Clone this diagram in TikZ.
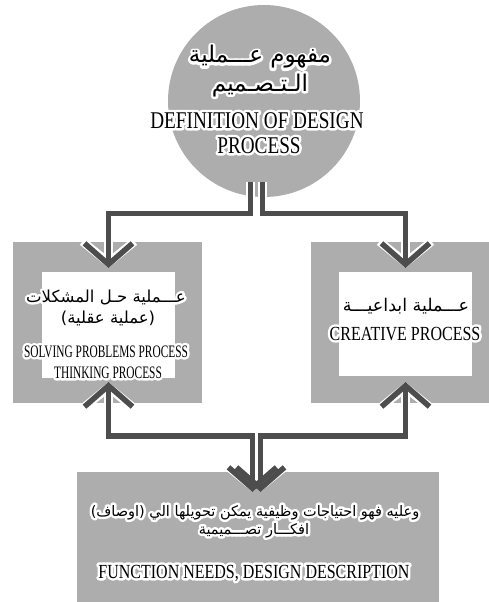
\documentclass[tikz,border=0pt]{standalone}
\usepackage{fontspec}
\setmainfont{Liberation Serif}
\newfontfamily\arabicfont[Script=Arabic]{DejaVu Sans}
\newfontfamily\latinfont[FakeStretch=0.8]{Liberation Serif}
\newfontfamily\slimfont[FakeStretch=0.65]{Liberation Serif}
\TeXXeTstate=1
\usetikzlibrary{arrows.meta,positioning}
\definecolor{boxgray}{RGB}{173,173,173}
\definecolor{linkgray}{RGB}{77,77,77}
% white stroked copy under the text
\newcommand{\haloed}[1]{\leavevmode\rlap{\color{white}\special{pdf:literal direct 1 Tr 5 w 1 j 1 J}#1\special{pdf:literal direct 0 Tr}}#1}
\newcommand{\arline}[1]{\haloed{\arabicfont\beginR #1\endR}}
\newcommand{\enline}[1]{\haloed{\latinfont #1}}
\newcommand{\enslim}[1]{\haloed{\slimfont #1}}

\begin{document}
\begin{tikzpicture}[x=1pt,y=-1pt,
  frame/.style={fill=boxgray,inner sep=0pt,outer sep=0pt},
  pane/.style={fill=white,inner sep=0pt,outer sep=0pt},
  ln/.style={inner sep=0pt,anchor=base},
  halo/.style={draw=white,line width=8.5pt,>={Straight Barb[length=21pt,width=52pt,line width=8.5pt]}},
  link/.style={draw=linkgray,line width=5.5pt,>={Straight Barb[length=21pt,width=48pt,line width=5.5pt]}}]

  \useasboundingbox (0,0) rectangle (489,602);

  % shapes
  \node[circle,fill=boxgray,minimum size=192pt,inner sep=0pt] (defn) at (264,101) {};
  \node[frame,minimum width=189pt,minimum height=161pt] (solve) at (107.5,322.5) {};
  \node[pane,minimum width=133pt,minimum height=106pt] (solvein) at (108.5,325) {};
  \node[frame,minimum width=178pt,minimum height=161pt] (creative) at (400,322.5) {};
  \node[pane,minimum width=133pt,minimum height=104pt] (creativein) at (405.5,324) {};
  \node[frame,minimum width=362pt,minimum height=130pt] (needs) at (258,537) {};

  % connectors
  \foreach \pass in {halo,link} {
    \draw[\pass,->] ([xshift=-13.5pt,yshift=15pt]defn.south) -- ++(0,31.5) -| ([yshift=4pt]solvein.north);
    \draw[\pass,->] ([xshift=-1.5pt,yshift=15pt]defn.south) -- ++(0,31.5) -| ([yshift=4pt]creativein.north);
    \draw[\pass,<->] ([yshift=-4pt]solvein.south) -- ++(0,54) -| ([xshift=-5.5pt,yshift=-20pt]needs.north);
    \draw[\pass,<->] ([yshift=-6pt]creativein.south) -- ++(0,54) -| ([xshift=2.5pt,yshift=-20pt]needs.north);
  }

  % texts
  \node[ln,font=\fontsize{23}{25}\selectfont] (defnar1) at (260,63) {\arline{مفهوم عـــملية}};
  \node[ln,font=\fontsize{23}{25}\selectfont] (defnar2) at (260,91) {\arline{الـتـصـميم}};
  \node[ln,font=\fontsize{24}{26}\selectfont] (defnen1) at (257,128) {\enline{DEFINITION OF DESIGN}};
  \node[ln,font=\fontsize{24}{26}\selectfont] (defnen2) at (259,153) {\enline{PROCESS}};

  \node[ln,font=\fontsize{16.5}{18}\selectfont] (solvear1) at (106,302) {\arline{عـــملية حـل المشكلات}};
  \node[ln,font=\fontsize{16.5}{18}\selectfont] (solvear2) at (108,323) {\arline{(عملية عقلية)}};
  \node[ln,font=\fontsize{17.5}{19}\selectfont] (solveen1) at (106,357) {\enslim{SOLVING PROBLEMS PROCESS}};
  \node[ln,font=\fontsize{17.5}{19}\selectfont] (solveen2) at (108,378) {\enslim{THINKING PROCESS}};

  \node[ln,font=\fontsize{17.5}{19}\selectfont] (creativear) at (406,311) {\arline{عـــملية ابداعيـــة}};
  \node[ln,font=\fontsize{20}{22}\selectfont] (creativeen) at (405,340) {\enline{CREATIVE PROCESS}};

  \node[ln,font=\fontsize{14.5}{16}\selectfont] (needsar1) at (255,516) {\arline{وعليه فهو احتياجات وظيفية يمكن تحويلها الي (اوصاف)}};
  \node[ln,font=\fontsize{14.5}{16}\selectfont] (needsar2) at (254,534) {\arline{افكـــار تصـــميمية}};
  \node[ln,font=\fontsize{20}{22}\selectfont] (needsen) at (254,578) {\enline{FUNCTION NEEDS, DESIGN DESCRIPTION}};
\end{tikzpicture}
\end{document}
